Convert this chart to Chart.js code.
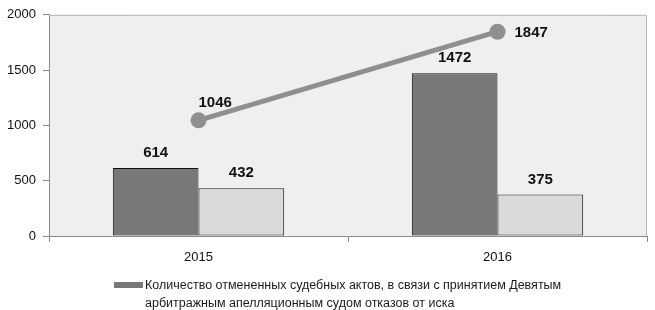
<!DOCTYPE html>
<html>
<head>
<meta charset="utf-8">
<script src="https://cdn.jsdelivr.net/npm/chart.js@4.4.1/dist/chart.umd.min.js"></script>
<style>
    body { margin: 0; background: #fff; }
    #wrap { position: relative; width: 655px; height: 310px; }
    #legend { position: absolute; left: 114px; top: 276px; font-family: "Liberation Sans", Arial, sans-serif;
              font-size: 12.5px; color: #1a1a1a; line-height: 18px; }
    #legend .box { position: absolute; left: 0; top: 6px; width: 29px; height: 6px; background: #76787a; }
    #legend .txt { position: absolute; left: 31px; top: 0; width: 460px; }
</style>
</head>
<body>
<div id="wrap">
    <canvas id="courtChart" width="655" height="310"></canvas>
    <div id="legend"><span class="box"></span><span class="txt"></span></div>
</div>
<script>
var years = ['2015', '2016'];
var cancelledActs = [614, 1472];
var secondBars = [432, 375];
var totalLine = [1046, 1847];
var yTicks = [0, 500, 1000, 1500, 2000];

var seriesNames = [
    'Количество отмененных судебных актов, в связи с принятием Девятым арбитражным апелляционным судом отказов от иска',
    'Ряд 2',
    'Ряд 3'
];

// label offsets for the value labels: [dx, dy] per point
var lineLabelOffsets = [[0, -17, 'left'], [17, 1, 'left']];

var plotBackground = {
    id: 'plotBackground',
    beforeDraw: function(chart){
        var a = chart.chartArea, ctx = chart.ctx;
        ctx.save();
        ctx.fillStyle = '#eeefef';
        ctx.fillRect(a.left, a.top, a.right - a.left, a.bottom - a.top);
        ctx.restore();
    },
    afterDraw: function(chart){
        var a = chart.chartArea, ctx = chart.ctx;
        ctx.save();
        ctx.strokeStyle = '#b4b5b6';
        ctx.lineWidth = 1;
        ctx.beginPath();
        ctx.moveTo(a.left, a.top + 0.5);
        ctx.lineTo(a.right - 0.5, a.top + 0.5);
        ctx.lineTo(a.right - 0.5, a.bottom);
        ctx.stroke();
        ctx.restore();
    }
};

var valueLabels = {
    id: 'valueLabels',
    afterDatasetsDraw: function(chart){
        var ctx = chart.ctx;
        ctx.save();
        ctx.font = 'bold 15px "Liberation Sans", Arial, sans-serif';
        ctx.fillStyle = '#111';
        ctx.textBaseline = 'middle';
        chart.data.datasets.forEach(function(ds, i){
            var meta = chart.getDatasetMeta(i);
            meta.data.forEach(function(el, j){
                var v = ds.data[j];
                if (ds.type === 'line') {
                    var off = lineLabelOffsets[j];
                    ctx.textAlign = off[2];
                    ctx.fillText(String(v), el.x + off[0], el.y + off[1]);
                } else {
                    ctx.textAlign = 'center';
                    ctx.fillText(String(v), el.x, el.y - 15);
                }
            });
        });
        ctx.restore();
    }
};

var chartData = {
    labels: years,
    datasets: [{
        type: 'line',
        label: seriesNames[2],
        data: totalLine,
        borderColor: '#8e8f91',
        backgroundColor: '#8e8f91',
        borderWidth: 5,
        pointRadius: 8,
        pointHoverRadius: 8,
        pointBorderWidth: 0,
        order: 0
    }, {
        type: 'bar',
        label: seriesNames[0],
        data: cancelledActs,
        backgroundColor: '#76787a',
        borderColor: '#111',
        borderWidth: 1,
        borderSkipped: false,
        barPercentage: 1,
        categoryPercentage: 0.573,
        order: 1
    }, {
        type: 'bar',
        label: seriesNames[1],
        data: secondBars,
        backgroundColor: '#d9dadb',
        borderColor: '#222',
        borderWidth: 1,
        borderSkipped: false,
        barPercentage: 1,
        categoryPercentage: 0.573,
        order: 1
    }]
};

var courtChart = new Chart(document.getElementById('courtChart').getContext('2d'), {
    data: chartData,
    options: {
        responsive: false,
        animation: false,
        layout: { padding: { top: 14, right: 7, left: 0, bottom: 0 } },
        plugins: {
            legend: { display: false },
            tooltip: { enabled: false }
        },
        scales: {
            x: {
                offset: true,
                grid: { offset: true, drawOnChartArea: false, drawTicks: true, tickLength: 6, color: '#8a8a8a' },
                border: { color: '#8a8a8a' },
                ticks: { color: '#111', padding: 8, font: { family: '"Liberation Sans", Arial, sans-serif', size: 13 } },
                afterFit: function(scale){ scale.height = 74; }
            },
            y: {
                min: 0,
                max: 2000,
                afterBuildTicks: function(scale){
                    scale.ticks = yTicks.map(function(v){ return { value: v }; });
                },
                grid: { drawOnChartArea: false, drawTicks: true, tickLength: 6, color: '#8a8a8a' },
                border: { color: '#8a8a8a' },
                ticks: {
                    color: '#111', padding: 7,
                    font: { family: '"Liberation Sans", Arial, sans-serif', size: 13 },
                    callback: function(value){ return String(value); }
                },
                afterFit: function(scale){ scale.width = 49; }
            }
        }
    },
    plugins: [plotBackground, valueLabels]
});

document.querySelector('#legend .txt').textContent = seriesNames[0];
</script>
</body>
</html>
